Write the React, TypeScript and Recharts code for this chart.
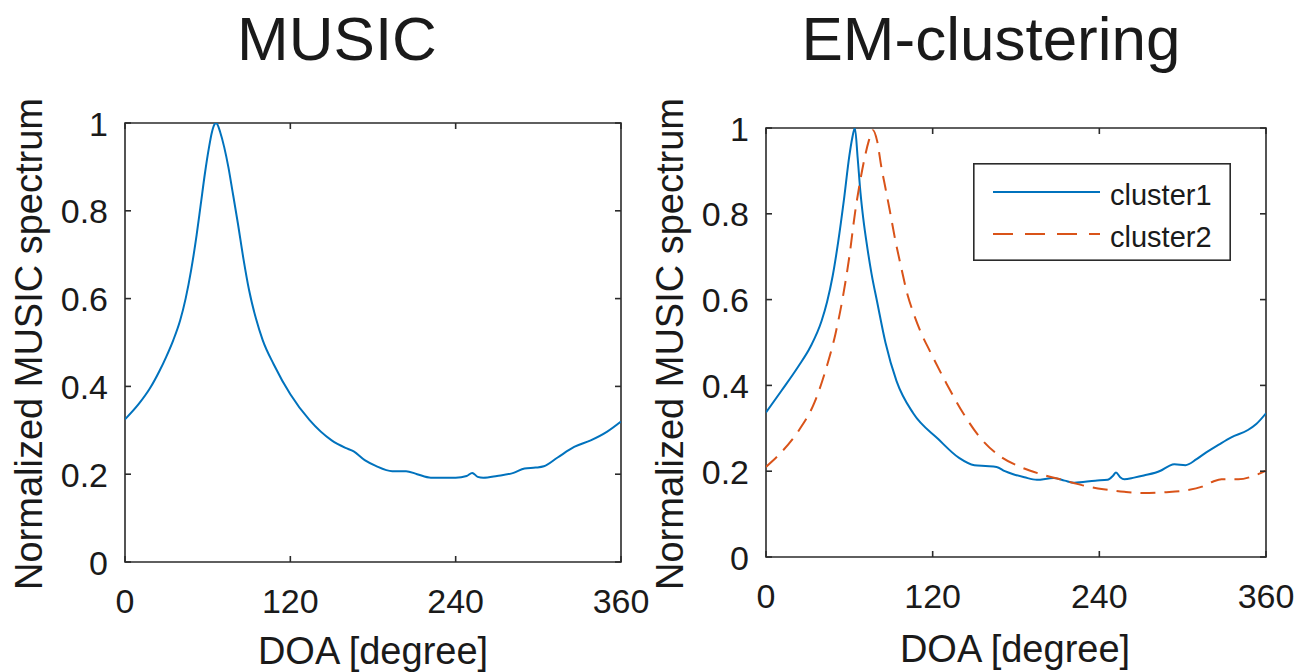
import React from 'react';
import { LineChart, Line, XAxis, YAxis, Legend, ReferenceArea } from 'recharts';

const xTicks = [0, 120, 240, 360];
const yTicks = [0, 0.2, 0.4, 0.6, 0.8, 1];

// MUSIC panel
const musicDeg = [0, 10, 18, 25, 30, 35, 40, 44, 48, 52, 55, 58, 61, 63, 65, 66, 67, 69, 72, 75, 78, 82, 86, 90, 95, 100, 108, 120, 134, 150, 160, 166, 174, 182, 194, 204, 212, 222, 240, 248, 252, 256, 260, 270, 282, 290, 298, 304, 314, 326, 338, 350, 360];
const musicVal = [0.325, 0.36, 0.395, 0.435, 0.468, 0.505, 0.55, 0.6, 0.665, 0.745, 0.815, 0.885, 0.945, 0.978, 0.997, 1.0, 0.997, 0.98, 0.945, 0.9, 0.845, 0.77, 0.69, 0.62, 0.555, 0.505, 0.45, 0.382, 0.323, 0.277, 0.26, 0.252, 0.232, 0.219, 0.207, 0.207, 0.2, 0.192, 0.192, 0.196, 0.203, 0.194, 0.192, 0.196, 0.203, 0.213, 0.215, 0.218, 0.238, 0.262, 0.277, 0.297, 0.32];

// EM-clustering panel
const cluster1Deg = [0, 11, 23, 32, 40, 44, 48, 52, 56, 60, 62, 64, 66, 68, 70, 73, 76, 80, 86, 94, 106, 124, 139, 150, 158, 166, 172, 178, 186, 195, 207, 215, 222, 237, 246, 250, 252, 255, 258, 265, 272, 284, 290, 294, 302, 310, 317, 326, 335, 347, 353, 360];
const cluster1Val = [0.337, 0.387, 0.443, 0.49, 0.55, 0.595, 0.655, 0.735, 0.83, 0.935, 0.975, 1.0, 0.93, 0.85, 0.79, 0.72, 0.66, 0.595, 0.5, 0.41, 0.335, 0.275, 0.231, 0.214, 0.212, 0.21, 0.2, 0.193, 0.186, 0.18, 0.184, 0.178, 0.173, 0.178, 0.18, 0.19, 0.197, 0.186, 0.181, 0.185, 0.19, 0.201, 0.212, 0.216, 0.214, 0.228, 0.244, 0.262, 0.279, 0.296, 0.31, 0.335];

const cluster2Deg = [0, 11, 23, 35, 44, 50, 55, 60, 64, 68, 71, 74, 77, 80, 83, 86, 89, 93, 97, 102, 106, 112, 118, 130, 142, 154, 168, 183, 198, 213, 228, 243, 258, 272, 287, 302, 314, 322, 328, 340, 352, 360];
const cluster2Val = [0.21, 0.244, 0.292, 0.361, 0.447, 0.52, 0.6, 0.7, 0.8, 0.88, 0.93, 0.97, 0.995, 0.97, 0.91, 0.86, 0.81, 0.74, 0.68, 0.61, 0.57, 0.52, 0.48, 0.404, 0.335, 0.279, 0.236, 0.21, 0.193, 0.18, 0.167, 0.158, 0.152, 0.149, 0.151, 0.155, 0.164, 0.176, 0.181, 0.181, 0.19, 0.201];

const seriesNames = ['cluster1', 'cluster2'];

const BLUE = '#0072BD';
const ORANGE = '#D95319';
const AXIS = '#2b2b2b';
const INK = '#1a1a1a';
const FONT = "'Liberation Sans', Arial, Helvetica, sans-serif";

const toRows = (deg: number[], val: number[]) => deg.map((d, i) => ({ deg: d, v: val[i] }));

const musicRows = toRows(musicDeg, musicVal);
const cluster1Rows = toRows(cluster1Deg, cluster1Val);
const cluster2Rows = toRows(cluster2Deg, cluster2Val);

// bottom labels sit outside, tick marks point inside on both bottom and top edge (MATLAB box)
const BottomTick = (props: any) => {
  const { x, y, payload, span } = props;
  return (
    <g>
      <line x1={x} x2={x} y1={y} y2={y - 6} stroke={AXIS} strokeWidth={1.6} />
      <line x1={x} x2={x} y1={y - span} y2={y - span + 6} stroke={AXIS} strokeWidth={1.6} />
      <text x={x} y={y + 51} textAnchor="middle" fontSize={34} fontFamily={FONT} fill={INK}>
        {payload.value}
      </text>
    </g>
  );
};

const LeftTick = (props: any) => {
  const { x, y, payload, span } = props;
  return (
    <g>
      <line x1={x} x2={x + 6} y1={y} y2={y} stroke={AXIS} strokeWidth={1.6} />
      <line x1={x + span} x2={x + span - 6} y1={y} y2={y} stroke={AXIS} strokeWidth={1.6} />
      <text x={x - 17} y={y + 12.5} textAnchor="end" fontSize={34} fontFamily={FONT} fill={INK}>
        {payload.value}
      </text>
    </g>
  );
};

const LegendBox = () => (
  <svg width={258} height={98} style={{ display: 'block' }}>
    <rect x={0.8} y={0.8} width={256.4} height={96.4} fill="#fff" stroke={AXIS} strokeWidth={1.6} />
    {seriesNames.map((name, i) => (
      <g key={name}>
        <line
          x1={20}
          x2={127}
          y1={29 + 42 * i}
          y2={29 + 42 * i}
          stroke={i === 0 ? BLUE : ORANGE}
          strokeWidth={2}
          strokeDasharray={i === 0 ? undefined : '20 12'}
        />
        <text x={137} y={42 + 42 * i} fontSize={29} fontFamily={FONT} fill={INK}>
          {name}
        </text>
      </g>
    ))}
  </svg>
);

function Panel({ width, margin, yAxisWidth, xAxisHeight, plotW, plotH, children }: any) {
  return (
    <LineChart width={width} height={672} margin={margin}>
      <XAxis xAxisId="b" type="number" dataKey="deg" domain={[0, 360]} ticks={xTicks} interval={0} allowDataOverflow
        height={xAxisHeight} tickSize={0} tickMargin={0} tickLine={false} axisLine={false} tick={<BottomTick span={plotH} />} />
      <YAxis yAxisId="l" type="number" domain={[0, 1]} ticks={yTicks} interval={0} allowDataOverflow
        width={yAxisWidth} tickSize={0} tickMargin={0} tickLine={false} axisLine={false} tick={<LeftTick span={plotW} />} />
      {children}
      <ReferenceArea xAxisId="b" yAxisId="l" x1={0} x2={360} y1={0} y2={1} fill="none" fillOpacity={0}
        stroke={AXIS} strokeWidth={1.6} ifOverflow="visible" />
    </LineChart>
  );
}

export default function App() {
  return (
    <div style={{ position: 'absolute', left: 0, top: 0, width: 1297, height: 672, background: '#fff', fontFamily: FONT }}>
      <div style={{ position: 'absolute', left: 0, top: 0 }}>
        <Panel width={650} margin={{ top: 123, right: 29, bottom: 0, left: 0 }} yAxisWidth={125} xAxisHeight={110}
          plotW={496} plotH={439}>
          <Line xAxisId="b" yAxisId="l" data={musicRows} dataKey="v" type="monotone" stroke={BLUE} strokeWidth={2}
            dot={false} activeDot={false} isAnimationActive={false} />
        </Panel>
      </div>
      <div style={{ position: 'absolute', left: 650, top: 0 }}>
        <Panel width={647} margin={{ top: 128, right: 31, bottom: 0, left: 0 }} yAxisWidth={116} xAxisHeight={115}
          plotW={500} plotH={429}>
          <Line xAxisId="b" yAxisId="l" data={cluster1Rows} dataKey="v" name="cluster1" type="monotone" stroke={BLUE} strokeWidth={2}
            dot={false} activeDot={false} isAnimationActive={false} />
          <Line xAxisId="b" yAxisId="l" data={cluster2Rows} dataKey="v" name="cluster2" type="monotone" stroke={ORANGE} strokeWidth={2}
            strokeDasharray="15 9" dot={false} activeDot={false} isAnimationActive={false} />
          <Legend layout="horizontal" verticalAlign="middle" align="center" content={() => <LegendBox />}
            wrapperStyle={{ left: 323, top: 163, width: 258, height: 98 }} />
        </Panel>
      </div>
      <svg width={1297} height={672} style={{ position: 'absolute', left: 0, top: 0, pointerEvents: 'none' }}>
        <g fontFamily={FONT} fill={INK}>
          <text x={337} y={60} fontSize={62} textAnchor="middle">MUSIC</text>
          <text x={991} y={60} fontSize={62} textAnchor="middle">EM-clustering</text>
          <text x={373} y={664} fontSize={38} textAnchor="middle">DOA [degree]</text>
          <text x={1015} y={662} fontSize={38} textAnchor="middle">DOA [degree]</text>
          <text transform="translate(42 344) rotate(-90)" fontSize={38} textAnchor="middle">Normalized MUSIC spectrum</text>
          <text transform="translate(683 344) rotate(-90)" fontSize={38} textAnchor="middle">Normalized MUSIC spectrum</text>
        </g>
      </svg>
    </div>
  );
}
